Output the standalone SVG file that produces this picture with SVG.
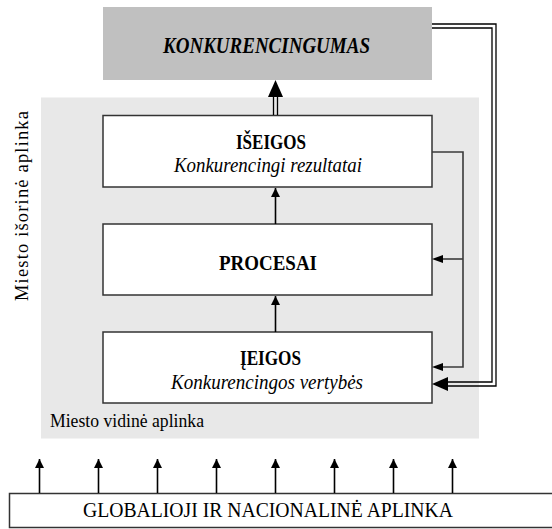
<svg xmlns="http://www.w3.org/2000/svg" width="552" height="529" viewBox="0 0 552 529">
<defs>
<style>
.box{fill:#ffffff;stroke:#333333;stroke-width:1.5}
text{font-family:"Liberation Serif","Times New Roman",Times,serif;fill:#000}
.b{font-weight:bold}
.i{font-style:italic}
.thin{fill:none;stroke:#3a3a3a;stroke-width:1.6}
.dbl{fill:none;stroke:#000;stroke-width:1.3}
.ar{fill:none;stroke:#000;stroke-width:1.6}
</style>
<marker id="ah" viewBox="0 0 10 10" refX="10" refY="5" markerWidth="10" markerHeight="9" markerUnits="userSpaceOnUse" orient="auto">
<path d="M0,0 L10,5 L0,10 Z" fill="#000"/>
</marker>
</defs>
<rect x="41" y="97.5" width="438" height="341" fill="#e8e8e8"/>
<g id="konkurencingumas">
<rect x="103" y="7" width="329" height="73" fill="#c0c0c0"/>
<text class="b i" x="266.5" y="52.5" font-size="23" text-anchor="middle" textLength="207" lengthAdjust="spacingAndGlyphs">KONKURENCINGUMAS</text>
</g>
<g id="iseigos">
<rect class="box" x="103" y="115.5" width="329" height="71.5"/>
<text class="b" x="271" y="148.5" font-size="21.5" text-anchor="middle" textLength="70" lengthAdjust="spacingAndGlyphs">IŠEIGOS</text>
<text class="i" x="268" y="171.5" font-size="21" text-anchor="middle" textLength="188" lengthAdjust="spacingAndGlyphs">Konkurencingi rezultatai</text>
</g>
<g id="procesai">
<rect class="box" x="103" y="224" width="329" height="71"/>
<text class="b" x="268" y="269.5" font-size="22" text-anchor="middle" textLength="98" lengthAdjust="spacingAndGlyphs">PROCESAI</text>
</g>
<g id="ieigos">
<rect class="box" x="103" y="332" width="329" height="71"/>
<text class="b" x="270.5" y="364.5" font-size="21.5" text-anchor="middle" textLength="61" lengthAdjust="spacingAndGlyphs">ĮEIGOS</text>
<text class="i" x="267" y="388.5" font-size="21" text-anchor="middle" textLength="192" lengthAdjust="spacingAndGlyphs">Konkurencingos vertybės</text>
</g>
<g id="aplinka">
<rect x="9.5" y="493.5" width="560" height="34" fill="#fff" stroke="#333" stroke-width="1.5"/>
<text x="268" y="516.5" font-size="20.5" text-anchor="middle" textLength="370" lengthAdjust="spacingAndGlyphs">GLOBALIOJI IR NACIONALINĖ APLINKA</text>
</g>
<g id="labels">
<text x="50" y="427" font-size="18.5" textLength="154" lengthAdjust="spacingAndGlyphs">Miesto vidinė aplinka</text>
<text transform="translate(28,206) rotate(-90)" x="0" y="0" font-size="18.5" text-anchor="middle" textLength="190" lengthAdjust="spacing">Miesto išorinė aplinka</text>
</g>
<g id="connectors">
<path class="ar" d="M275.5,224 V188" marker-end="url(#ah)"/>
<path class="ar" d="M275.5,332 V296" marker-end="url(#ah)"/>
<path class="thin" d="M432,152 H463 V367 H442"/>
<path class="thin" d="M463,259 H442"/>
<path d="M443,363 L432,367 L443,371 Z" fill="#000"/>
<path d="M443,255 L432,259 L443,263 Z" fill="#000"/>
<path class="dbl" d="M273.5,115 V96 M277.5,115 V96"/>
<path d="M275.5,80 L283,97 L268,97 Z" fill="#000"/>
<path class="dbl" d="M432,24 H496 V386 H446 M432,28 H492 V382 H446"/>
<path d="M432,384 L448,377 L448,391 Z" fill="#000"/>
<g class="ar">
<path d="M39.5,493 V459" marker-end="url(#ah)"/>
<path d="M98.5,493 V459" marker-end="url(#ah)"/>
<path d="M157.5,493 V459" marker-end="url(#ah)"/>
<path d="M216.5,493 V459" marker-end="url(#ah)"/>
<path d="M275.5,493 V459" marker-end="url(#ah)"/>
<path d="M334.5,493 V459" marker-end="url(#ah)"/>
<path d="M393.5,493 V459" marker-end="url(#ah)"/>
<path d="M452.5,493 V459" marker-end="url(#ah)"/>
</g>
</g>
</svg>
